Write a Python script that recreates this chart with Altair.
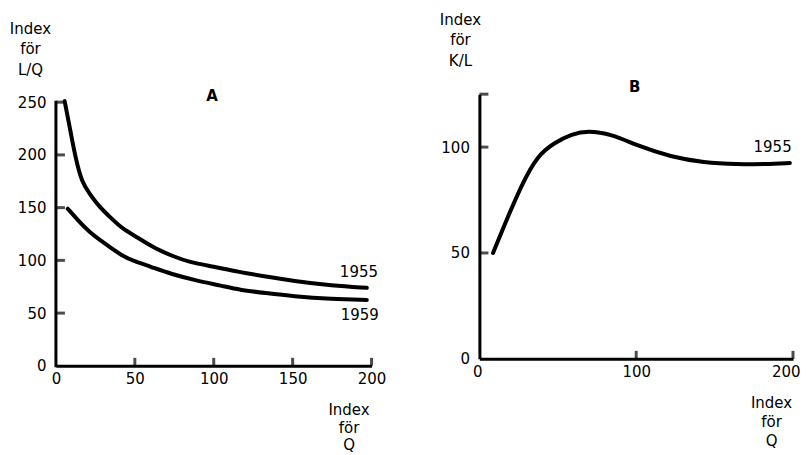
import altair as alt
import pandas as pd

FONT = "DejaVu Sans"
FS = 15

# ---- Panel A: Index för L/Q vs Index för Q ----
a55_q = [5.5, 8, 12.5, 16.5, 21, 27, 35, 42, 52, 63, 75, 84, 100, 116, 133, 150, 175, 197]
a55_v = [251, 232, 196, 174, 164, 151.5, 140, 130, 121.5, 111, 103.5, 98.5, 94, 89, 84.7, 80.5, 76, 74]
a59_q = [7.5, 14, 21, 30, 42, 50, 60, 73, 90, 105, 116, 133, 150, 175, 197]
a59_v = [149, 138, 127, 117, 104, 99, 94, 87, 80.5, 76, 72, 69, 66, 63.4, 62.5]
a_xticks = [50, 100, 150, 200]
a_yticks = [50, 100, 150, 200, 250]
a_xlabels = [0, 50, 100, 150, 200]
a_ylabels = [0, 50, 100, 150, 200, 250]
a_letter = ["A"]
a_letter_q = [99]
a_letter_v = [255.5]
a_years = ["1955", "1959"]
a_years_q = [192, 192.5]
a_years_v = [89, 48]

# ---- Panel B: Index för K/L vs Index för Q ----
b55_q = [8.7, 16, 27, 37, 48, 59, 69, 84, 101, 122, 143, 165, 182, 198]
b55_v = [50, 63.3, 82.4, 96, 102.2, 106.2, 107.8, 106.2, 100.6, 95.4, 92.7, 91.9, 91.9, 92.5]
b_xticks = [100, 200]
b_yticks = [50, 100, 125]
b_xlabels = [0, 100, 200]
b_ylabels = [0, 50, 100]
b_letter = ["B"]
b_letter_q = [99]
b_letter_v = [128.5]
b_years = ["1955"]
b_years_q = [187]
b_years_v = [100]


def x_enc(labels, title_x, title_y, title_lh, flush):
    extra = {"labelFlush": True, "labelFlushOffset": 7} if flush else {"labelFlush": False}
    return alt.X(
        "Q:Q",
        scale=alt.Scale(domain=[0, 200], nice=False, zero=False),
        axis=alt.Axis(
            values=labels, ticks=False, grid=False, domain=True,
            domainColor="black", domainWidth=3,
            labelFont=FONT, labelFontSize=FS, labelColor="black",
            labelPadding=6,
            title=["Index", "för", "Q"], titleFont=FONT, titleFontSize=FS,
            titleFontWeight="normal", titleColor="black", titleAngle=0,
            titleAlign="center", titleBaseline="top", titleLineHeight=title_lh,
            titleX=title_x, titleY=title_y, **extra,
        ),
    )


def y_enc(labels, domain, title, title_x, title_y, show_domain):
    return alt.Y(
        "V:Q",
        scale=alt.Scale(domain=domain, nice=False, zero=False),
        axis=alt.Axis(
            values=labels, ticks=False, grid=False, domain=show_domain,
            domainColor="black", domainWidth=3,
            labelFont=FONT, labelFontSize=FS, labelColor="black",
            labelPadding=10, labelFlush=False,
            title=title, titleFont=FONT, titleFontSize=FS,
            titleFontWeight="normal", titleColor="black", titleAngle=0,
            titleAlign="center", titleBaseline="top", titleLineHeight=20.5,
            titleX=title_x, titleY=title_y,
        ),
    )


def panel(series, xticks, yticks, xlabels, ylabels, letter, years,
          ydomain, ytitle, yt_x, yt_y, xt_x, xt_y, xt_lh, flush,
          width, height, y_top, manual_y):
    X = x_enc(xlabels, xt_x, xt_y, xt_lh, flush)
    Y = y_enc(ylabels, ydomain, ytitle, yt_x, yt_y, not manual_y)
    rows = []
    for name, qs, vs in series:
        for q, v in zip(qs, vs):
            rows.append({"Q": q, "V": v, "series": name})
    lines = alt.Chart(pd.DataFrame(rows)).mark_line(
        interpolate="basis", strokeWidth=4, color="black", strokeCap="round"
    ).encode(x=X, y=Y, detail="series:N")

    xt = alt.Chart(pd.DataFrame({"Q": xticks, "V": [0] * len(xticks)})).mark_tick(
        orient="vertical", size=8, thickness=3, color="black", yOffset=-4
    ).encode(x=X, y=Y)
    yt = alt.Chart(pd.DataFrame({"Q": [0] * len(yticks), "V": yticks})).mark_tick(
        orient="horizontal", size=9, thickness=3, color="black", xOffset=4.5
    ).encode(x=X, y=Y)
    lt, lq, lv = letter
    let = alt.Chart(pd.DataFrame({"Q": lq, "V": lv, "t": lt})).mark_text(
        font=FONT, fontSize=FS, fontWeight="bold", color="black",
        align="center", baseline="middle"
    ).encode(x=X, y=Y, text="t:N")
    yt_, yq, yv = years
    yrs = alt.Chart(pd.DataFrame({"Q": yq, "V": yv, "t": yt_})).mark_text(
        font=FONT, fontSize=FS, color="black", align="center", baseline="middle"
    ).encode(x=X, y=Y, text="t:N")
    layers = [lines, xt, yt, let, yrs]
    if manual_y:
        yaxis = alt.Chart(pd.DataFrame({"Q": [0], "V": [0], "V2": [y_top]})).mark_rule(
            strokeWidth=3, color="black", strokeCap="square"
        ).encode(x=X, y=Y, y2="V2:Q")
        layers.insert(0, yaxis)
    return alt.layer(*layers).properties(width=width, height=height)


panelA = panel(
    [("1955", a55_q, a55_v), ("1959", a59_q, a59_v)],
    a_xticks, a_yticks, a_xlabels, a_ylabels,
    (a_letter, a_letter_q, a_letter_v), (a_years, a_years_q, a_years_v),
    [0, 257.6], ["Index", "för", "L/Q"], -26, -73, 293, 37, 17.5, False,
    316, 272, 250, True,
)
panelB = panel(
    [("1955", b55_q, b55_v)],
    b_xticks, b_yticks, b_xlabels, b_ylabels,
    (b_letter, b_letter_q, b_letter_v), (b_years, b_years_q, b_years_v),
    [0, 125], ["Index", "för", "K/L"], -19.5, -82, 292, 37, 19, True,
    314, 265, 125, False,
)

chart = alt.hconcat(panelA, panelB, spacing=52).properties(
    padding={"left": 1, "top": 4, "right": 0, "bottom": 0}
).configure_view(stroke=None)

chart.save("out.html", embed_options={"renderer": "svg", "actions": False})
